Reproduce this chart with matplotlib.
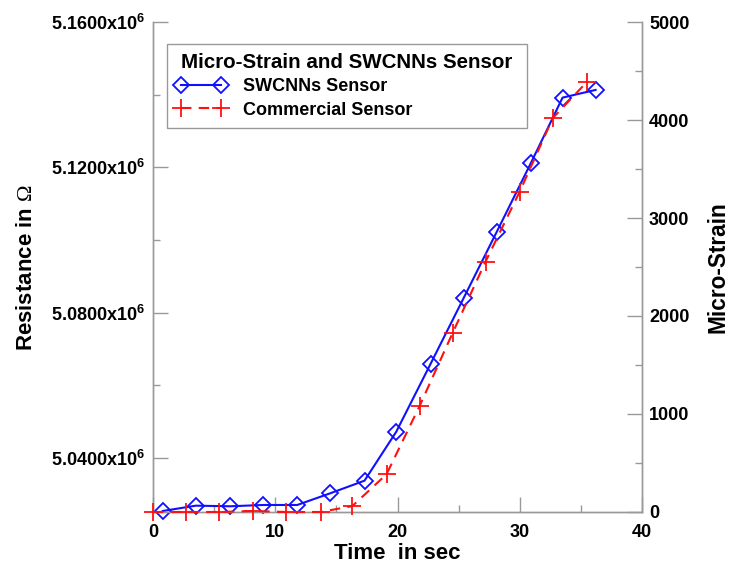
import numpy as np
import matplotlib
matplotlib.use("Agg")
import matplotlib.pyplot as plt

plt.rcParams['font.family'] = ['Liberation Sans', 'DejaVu Sans']
plt.rcParams['font.weight'] = 'bold'
plt.rcParams['mathtext.default'] = 'regular'
plt.rcParams['mathtext.fontset'] = 'custom'
plt.rcParams['mathtext.rm'] = 'Liberation Serif:normal'

# SWCNNs sensor (resistance, left axis)
t_swcnt = [0.8, 3.5, 6.3, 9.0, 11.8, 14.5, 17.3, 19.9, 22.7, 25.4, 28.1, 30.9, 33.5, 36.2]
resistance = [5.02541e6, 5.02687e6, 5.02670e6, 5.02706e6, 5.02706e6, 5.03028e6, 5.03375e6,
              5.04724e6, 5.06588e6, 5.08396e6, 5.10213e6, 5.12113e6, 5.13919e6, 5.14131e6]

# commercial sensor (micro-strain, right axis)
t_comm = [0.0, 2.7, 5.4, 8.2, 10.9, 13.7, 16.3, 19.1, 21.8, 24.5, 27.2, 30.0, 32.7, 35.5]
strain = [0, 0, 0, 10, 0, 0, 60, 385, 1080, 1825, 2555, 3270, 4020, 4390]

res_ticks = [5.04e6, 5.08e6, 5.12e6, 5.16e6]
res_labels = [r'5.0400x10$^{6}$', r'5.0800x10$^{6}$', r'5.1200x10$^{6}$', r'5.1600x10$^{6}$']

gray = '#999999'

fig = plt.figure(figsize=(7.29, 5.69), dpi=100)
ax = fig.add_axes([0.2099, 0.1002, 0.6708, 0.8611])
ax2 = ax.twinx()

l1, = ax.plot(t_swcnt, resistance, color='#1010ff', lw=1.5, marker='D', ms=8,
              mfc='none', mec='#1010ff', mew=1.3, label='SWCNNs Sensor', clip_on=False, zorder=5)
l2, = ax2.plot(t_comm, strain, color='#ff1010', lw=1.5, ls=(0, (5, 3.5)), marker='+', ms=13,
               mew=1.3, label='Commercial Sensor', clip_on=False, zorder=4)

ax.set_xlim(0, 40)
ax.set_ylim(5.02513e6, 5.16e6)
ax2.set_ylim(0, 5000)

ax.set_xticks([0, 10, 20, 30, 40])
ax.set_xticks([5, 15, 25, 35], minor=True)
ax.set_yticks(res_ticks)
ax.set_yticklabels(res_labels)
ax.set_yticks([5.06e6, 5.10e6, 5.14e6], minor=True)
ax2.set_yticks([0, 1000, 2000, 3000, 4000, 5000])
ax2.set_yticks(np.arange(500, 5000, 1000), minor=True)

for a in (ax, ax2):
    for s in a.spines.values():
        s.set_color(gray)
        s.set_linewidth(1.0)
    a.spines['top'].set_visible(False)
    a.tick_params(which='major', direction='in', length=11, width=1.0, color=gray,
                  labelsize=13, pad=6)
    a.tick_params(which='minor', direction='in', length=5, width=1.0, color=gray)
ax.tick_params(axis='x', pad=9)
ax2.tick_params(axis='y', pad=5)

for lab in ax.get_xticklabels() + ax.get_yticklabels() + ax2.get_yticklabels():
    lab.set_fontweight('bold')

ax.set_xlabel('Time  in sec', fontsize=16, fontweight='bold', labelpad=1)
ax.set_ylabel(r'Resistance in $\mathrm{\Omega}$', fontsize=16, fontweight='bold', labelpad=10)
ax2.set_ylabel('Micro-Strain', fontsize=16.3, fontweight='bold', labelpad=12)

# legend box roughly 360 px wide, top-left near the axes corner
leg = ax.legend(handles=[l1, l2], title='Micro-Strain and SWCNNs Sensor', loc='upper left',
                bbox_to_anchor=(0.0286, 0.855, 0.736, 0.1), mode='expand',
                fancybox=False, framealpha=1, edgecolor=gray, fontsize=13,
                title_fontsize=14.8, handlelength=2.8, numpoints=2, borderpad=0.5,
                labelspacing=0.35, handletextpad=0.9, borderaxespad=0)
leg.get_title().set_fontweight('bold')
for txt in leg.get_texts():
    txt.set_fontweight('bold')

fig.savefig('out.png', dpi=100)
